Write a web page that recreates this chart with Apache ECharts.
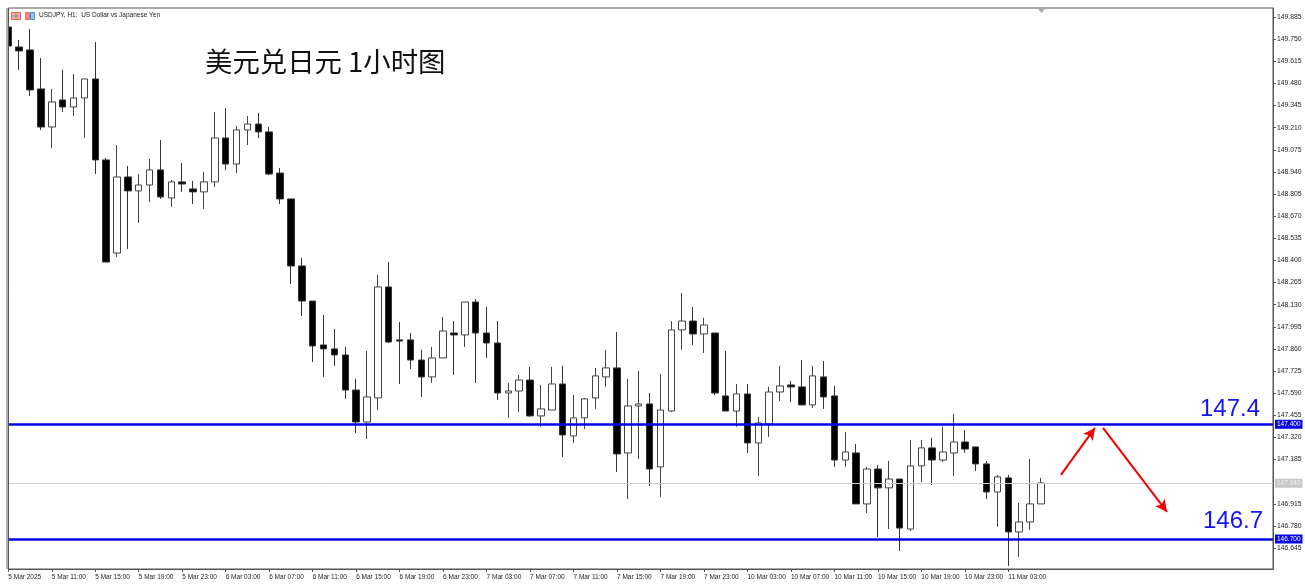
<!DOCTYPE html>
<html><head><meta charset="utf-8">
<style>html,body{margin:0;padding:0;background:#fff}#c{width:1305px;height:588px}</style>
<script src="https://cdn.jsdelivr.net/npm/echarts@6/dist/echarts.min.js"></script></head>
<body><div id="c"></div>
<script>
const opens=[149.824,149.702,149.684,149.446,149.214,149.379,149.336,149.391,149.507,149.013,148.445,148.909,148.824,148.860,148.952,148.781,148.879,148.836,148.818,148.879,149.147,148.988,149.196,149.232,149.184,148.933,148.775,148.366,148.152,147.884,147.860,147.823,147.609,147.414,147.561,148.238,147.915,147.915,147.792,147.689,147.805,147.957,147.945,148.146,147.957,147.896,147.591,147.603,147.670,147.451,147.487,147.646,147.329,147.439,147.561,147.689,147.744,147.225,147.512,147.524,147.140,147.481,147.976,148.030,147.951,147.957,147.573,147.481,147.585,147.286,147.402,147.597,147.640,147.628,147.518,147.689,147.573,147.182,147.225,146.914,147.127,147.012,147.066,146.761,147.146,147.256,147.182,147.225,147.292,147.262,147.158,146.987,147.073,146.743,146.804,146.914];
const closes=[149.708,149.678,149.440,149.214,149.367,149.336,149.391,149.507,149.013,148.390,148.909,148.824,148.860,148.952,148.787,148.879,148.866,148.818,148.879,149.147,148.988,149.196,149.232,149.184,148.927,148.775,148.366,148.152,147.878,147.860,147.823,147.609,147.414,147.567,148.238,147.902,147.908,147.792,147.689,147.805,147.969,147.945,148.146,147.957,147.896,147.591,147.603,147.670,147.451,147.494,147.646,147.335,147.439,147.555,147.695,147.744,147.219,147.512,147.524,147.127,147.487,147.976,148.030,147.951,148.006,147.591,147.481,147.585,147.286,147.408,147.597,147.634,147.628,147.518,147.695,147.567,147.182,147.231,146.914,147.127,147.012,147.066,146.767,147.146,147.256,147.182,147.231,147.292,147.249,147.158,146.987,147.079,146.743,146.804,146.914,147.042];
const lows=[149.708,149.562,149.403,149.196,149.086,149.306,149.281,149.147,148.927,148.390,148.421,148.470,148.628,148.756,148.775,148.726,148.818,148.744,148.714,148.848,148.952,148.933,149.104,149.147,148.921,148.744,148.256,148.061,147.780,147.689,147.756,147.555,147.347,147.310,147.487,147.896,147.646,147.738,147.567,147.652,147.805,147.701,147.872,147.652,147.805,147.548,147.439,147.475,147.445,147.384,147.487,147.201,147.286,147.371,147.494,147.628,147.109,146.944,147.188,147.024,146.957,147.475,147.854,147.884,147.835,147.579,147.481,147.384,147.225,147.085,147.323,147.542,147.536,147.518,147.500,147.494,147.140,147.140,146.914,146.859,146.713,146.761,146.627,146.749,147.048,147.030,147.170,147.085,147.225,147.115,146.944,146.774,146.536,146.591,146.755,146.914];
const highs=[149.824,149.745,149.812,149.635,149.446,149.562,149.537,149.507,149.733,149.025,149.104,148.976,148.927,149.019,149.135,148.891,148.994,148.885,148.940,149.306,149.330,149.220,149.281,149.300,149.214,148.964,148.775,148.415,148.152,148.067,147.982,147.872,147.677,147.847,148.311,148.390,148.024,147.957,147.854,147.872,148.055,148.030,148.146,148.165,148.116,148.030,147.652,147.701,147.750,147.640,147.750,147.756,147.579,147.561,147.744,147.854,147.963,147.677,147.725,147.591,147.707,148.030,148.201,148.116,148.049,147.957,147.847,147.646,147.646,147.445,147.628,147.756,147.664,147.792,147.756,147.786,147.634,147.353,147.280,147.140,147.152,147.176,147.066,147.304,147.304,147.317,147.384,147.463,147.365,147.262,147.176,147.091,147.091,146.920,147.188,147.073];
const timeLabels=['5 Mar 2025','5 Mar 11:00','5 Mar 15:00','5 Mar 19:00','5 Mar 23:00','6 Mar 03:00','6 Mar 07:00','6 Mar 11:00','6 Mar 15:00','6 Mar 19:00','6 Mar 23:00','7 Mar 03:00','7 Mar 07:00','7 Mar 11:00','7 Mar 15:00','7 Mar 19:00','7 Mar 23:00','10 Mar 03:00','10 Mar 07:00','10 Mar 11:00','10 Mar 15:00','10 Mar 19:00','10 Mar 23:00','11 Mar 03:00'];
const timeLabelBars=timeLabels.map((_,i)=>i*4);
const priceTicks=[149.885,149.750,149.615,149.480,149.345,149.210,149.075,148.940,148.805,148.670,148.535,148.400,148.265,148.130,147.995,147.860,147.725,147.590,147.455,147.320,147.185,146.915,146.780,146.645];
const upperLevel=147.4, lowerLevel=146.7, lastPrice=147.04;
const arrowUp=[[96.84,147.091],[99.97,147.378]];
const arrowDown=[[100.71,147.378],[106.6,146.865]];

const candles=opens.map((o,i)=>[i,o,closes[i],lows[i],highs[i]]);
const chart=echarts.init(document.getElementById('c'),null,{renderer:'canvas'});
const smallFont='"Liberation Sans","DejaVu Sans",sans-serif';
const lvl=(v,color,w,bg,fg)=>({yAxis:v,symbol:'none',lineStyle:{color:color,width:w,type:'solid'},
  label:{show:true,position:'end',distance:2,formatter:v.toFixed(3),color:fg,backgroundColor:bg,padding:[1,2,1,2],fontSize:6.5,fontFamily:smallFont}});
const arrow=(a)=>[{coord:a[0],symbol:'none',lineStyle:{color:'#f00000',width:2,type:'solid'},label:{show:false}},{coord:a[1],symbol:'arrow',symbolSize:[9,12]}];
chart.setOption({
  animation:false,backgroundColor:'#fff',
  title:[
    {text:'USDJPY, H1:  US Dollar vs Japanese Yen',left:39,top:12,padding:0,textStyle:{fontSize:6.5,fontWeight:'normal',color:'#222',fontFamily:smallFont}},
    {text:'美元兑日元 1小时图',left:205,top:48,padding:0,textStyle:{fontSize:27.4,fontWeight:'normal',color:'#111',fontFamily:'"Noto Sans CJK SC","Liberation Sans",sans-serif'}},
    {text:'147.4',left:1200,top:397,padding:0,textStyle:{fontSize:24,fontWeight:'normal',color:'#1414f0',fontFamily:'"Liberation Sans",sans-serif'}},
    {text:'146.7',left:1203,top:509,padding:0,textStyle:{fontSize:24,fontWeight:'normal',color:'#1414f0',fontFamily:'"Liberation Sans",sans-serif'}}
  ],
  grid:{left:8.3,top:8,width:1264.7,height:561,show:true,borderColor:'#555',borderWidth:1,backgroundColor:'#fff'},
  xAxis:{type:'value',min:0,max:116.35,splitLine:{show:false},
    axisLine:{show:true,onZero:false,lineStyle:{color:'#555'}},
    axisTick:{show:true,length:3,customValues:timeLabelBars,lineStyle:{color:'#555'}},
    axisLabel:{show:true,customValues:timeLabelBars,align:'left',margin:5,fontSize:6.5,color:'#222',fontFamily:smallFont,showMinLabel:true,showMaxLabel:true,hideOverlap:false,
      formatter:(v)=>timeLabels[Math.round(v/4)]||''}},
  yAxis:{type:'value',position:'right',min:146.517,max:149.94,splitLine:{show:false},scale:true,
    axisLine:{show:true,onZero:false,lineStyle:{color:'#555'}},
    axisTick:{show:true,length:3,customValues:priceTicks,lineStyle:{color:'#555'}},
    axisLabel:{show:true,customValues:priceTicks,margin:4,padding:[2,0,0,0],fontSize:6.8,color:'#222',fontFamily:smallFont,hideOverlap:false,formatter:(v)=>v.toFixed(3)}},
  series:[{type:'candlestick',barWidth:7,clip:true,encode:{x:0,y:[1,2,3,4]},data:candles,
    itemStyle:{color:'#fff',color0:'#000',borderColor:'#444',borderColor0:'#333',borderWidth:1},
    markLine:{silent:true,symbol:['none','none'],animation:false,data:[
      lvl(lastPrice,'#cfcfcf',1,'#c8c8c8','#eee'),
      lvl(upperLevel,'#0505e6',2.5,'#0505e6','#fff'),
      lvl(lowerLevel,'#0505e6',2.5,'#0505e6','#fff'),
      arrow(arrowUp),arrow(arrowDown)
    ]}}],
  graphic:[
    {type:'rect',z:20,shape:{x:0,y:8,width:6,height:561},style:{fill:'#fff'},silent:true},
    {type:'rect',z:20,shape:{x:6,y:8,width:2,height:561},style:{fill:'#b0b0b0'},silent:true},
    {type:'line',z:20,shape:{x1:8.5,y1:8,x2:8.5,y2:569},style:{stroke:'#555',lineWidth:1},silent:true},
    {type:'polygon',z:20,shape:{points:[[1038,9],[1045,9],[1041.5,13]]},style:{fill:'#aaa'},silent:true},
    {type:'rect',z:20,shape:{x:11.5,y:12.5,width:9,height:7},style:{fill:'#f7b0aa',stroke:'#e4665e',lineWidth:1},silent:true},
    {type:'line',z:20,shape:{x1:16,y1:13,x2:16,y2:19},style:{stroke:'#e4665e',lineWidth:1},silent:true},
    {type:'line',z:20,shape:{x1:12,y1:16,x2:20,y2:16},style:{stroke:'#6a94e0',lineWidth:1},silent:true},
    {type:'rect',z:20,shape:{x:25.5,y:12.5,width:4,height:7},style:{fill:'#f0908a',stroke:'#e4665e',lineWidth:1},silent:true},
    {type:'rect',z:20,shape:{x:30.5,y:12.5,width:4,height:7},style:{fill:'#9cc4ea',stroke:'#4a8ed8',lineWidth:1},silent:true}
  ]
});
</script></body></html>
